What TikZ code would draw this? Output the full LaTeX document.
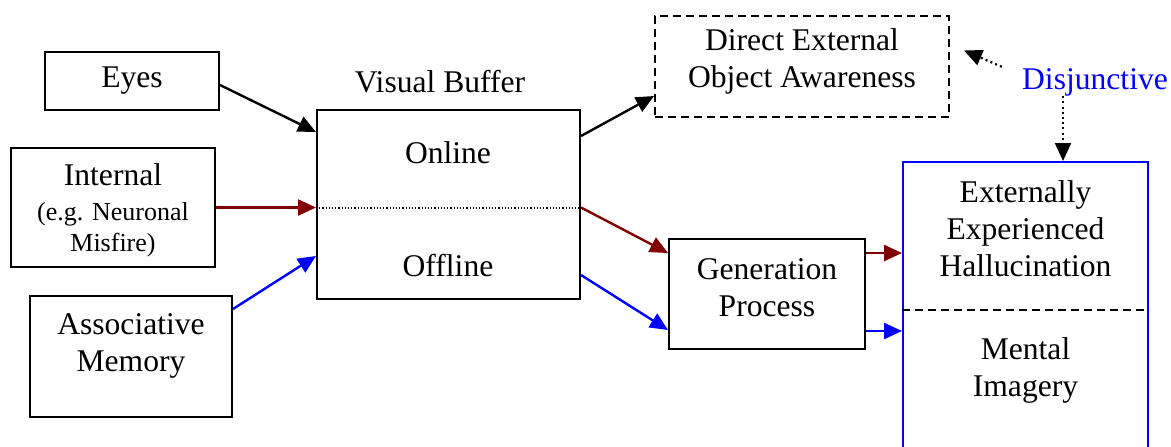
\documentclass[tikz,border=0pt]{standalone}
\usepackage{fontspec}
\setmainfont{Liberation Serif}
\usepackage{tikz}
\usepackage{xcolor}
\usetikzlibrary{arrows.meta, positioning, calc}
\definecolor{cMaroon}{RGB}{128,0,0}
\definecolor{cBlue}{RGB}{0,0,255}
\newcommand{\smallnote}{\fontsize{13}{15}\selectfont}
\tikzset{
	box/.style      ={rectangle, draw=black, line width=1pt, align=center, inner sep=0pt},
	txt/.style      ={align=center, inner sep=0pt},
	sig/.style      ={-{Triangle[length=9pt, width=8pt]}, line width=1.2pt},
	% dotted pointers from the Disjunctive label
	dotsig/.style   ={-{Triangle[length=9pt, width=8pt]}, line width=1.1pt, dash pattern=on 1pt off 1.6pt},
	divide/.style   ={line width=1pt, dash pattern=on 4pt off 2.5pt},
}

\begin{document}
\begin{tikzpicture}[x=0.5pt, y=-0.5pt, font=\fontsize{15.8}{18.5}\selectfont]
	\useasboundingbox (0,0) rectangle (1171,446);
	\clip (0,0) rectangle (1171,446);
	% sources
	\node[box, minimum width=87pt, minimum height=29pt] (eyes) at (132,81) {Eyes};
	\node[box, minimum width=102pt, minimum height=59.5pt] (internal) at (113,207.5) {};
	\node[txt] (internaltext) at (113,210) {Internal\\[-1pt]{\smallnote (e.g. Neuronal}\\[-3pt]{\smallnote Misfire)}};
	\node[box, minimum width=101pt, minimum height=60.5pt] (assoc) at (131,356.5) {};
	\node[txt] (assoctext) at (131,346) {Associative\\Memory};
	% visual buffer
	\node[box, minimum width=131.5pt, minimum height=94.5pt] (vb) at (448.5,204.5) {};
	\node[txt] (vblabel) at (440,82) {Visual Buffer};
	\node[txt] (online) at (448,153) {Online};
	\node[txt] (offline) at (448,266) {Offline};
	\draw[line width=0.6pt, dash pattern=on 0.6pt off 1pt] ($(vb.west)+(0,3.5)$) -- ($(vb.east)+(0,3.5)$);
	% outputs
	\node[box, dash pattern=on 4pt off 2.5pt, minimum width=147pt, minimum height=50.5pt] (direct) at (802,66.5) {};
	\node[txt] (directtext) at (802,61) {Direct External\\Object Awareness};
	\node[box, minimum width=98pt, minimum height=55pt] (gen) at (767,294) {};
	\node[txt] (gentext) at (767,288) {Generation\\Process};
	\node[box, draw=cBlue, minimum width=122.5pt, minimum height=149pt] (percept) at (1025.5,311) {};
	\draw[divide] (percept.west |- 0,310) -- (percept.east |- 0,310);
	\node[txt] (halluc) at (1025.5,229) {Externally\\Experienced\\Hallucination};
	\node[txt] (imagery) at (1025.5,370) {Mental\\Imagery};
	\node[txt, text=cBlue] (disj) at (1095,82) {Disjunctive};
	% connections
	\draw[sig] ($(eyes.east)+(0,4)$) -- ($(vb.north west)+(0,23)$);
	\draw[sig, cMaroon] (internal.east) -- (internal.east -| vb.west);
	\draw[sig, cBlue] ($(assoc.north east)+(0,14)$) -- ($(vb.south west)+(0,-44)$);
	\draw[sig] ($(vb.north east)+(0,27)$) -- ($(direct.south west)+(0,-22)$);
	\draw[sig, cMaroon] ($(vb.east)+(0,3)$) -- ($(gen.north west)+(0,15)$);
	\draw[sig, cBlue] ($(vb.south east)+(0,-25)$) -- ($(gen.south west)+(0,-20)$);
	\draw[sig, cMaroon] ($(gen.north east)+(0,15)$) -- ($(gen.north east -| percept.west)+(0,15)$);
	\draw[sig, cBlue] ($(gen.south east)+(0,-19)$) -- ($(gen.south east -| percept.west)+(0,-19)$);
	\draw[dotsig] ($(disj.north west)+(-20,-1)$) -- ($(direct.east)+(14,-16)$);
	\coordinate (pin) at ($(percept.north)+(37.5,0)$);
	\draw[dotsig] (pin |- disj.south) -- (pin);
\end{tikzpicture}
\end{document}
